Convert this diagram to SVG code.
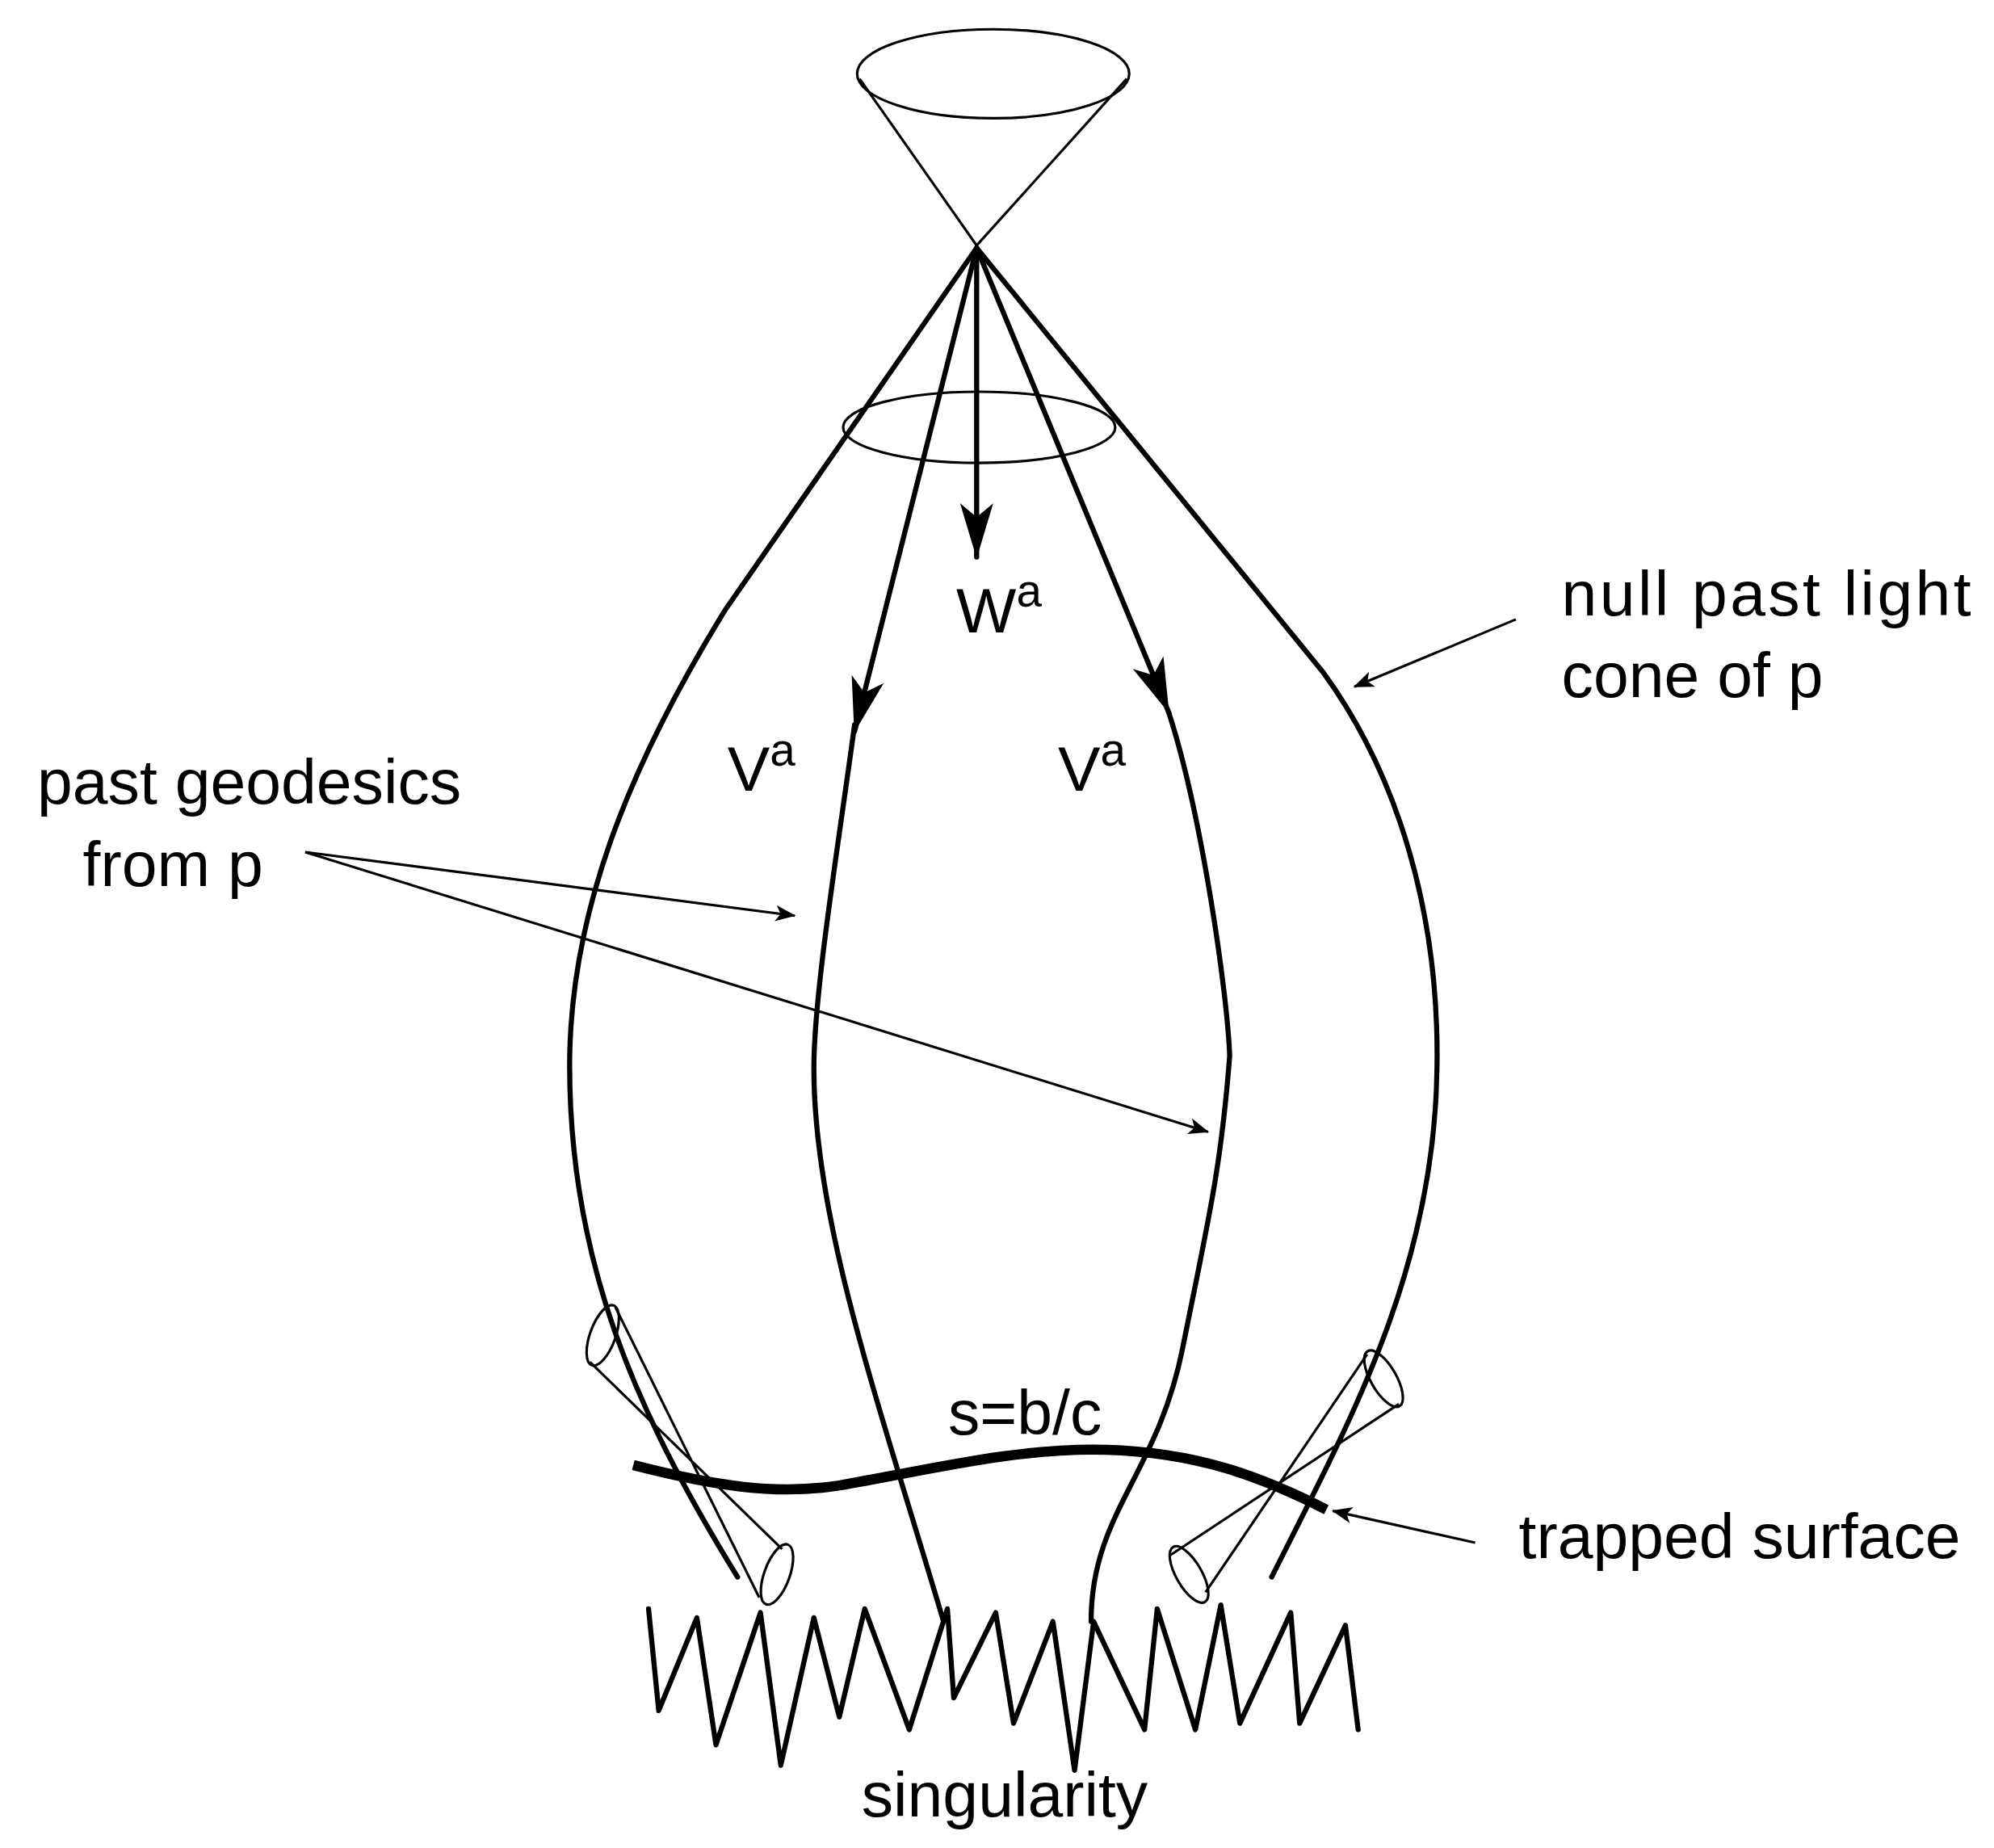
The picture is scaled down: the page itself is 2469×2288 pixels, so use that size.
<svg xmlns="http://www.w3.org/2000/svg" width="2469" height="2288" viewBox="0 0 2469 2288">
<style>
.t{font-family:"Liberation Sans",Arial,sans-serif;font-size:50px;fill:#000}
.th{fill:none;stroke:#000;stroke-width:4;stroke-linecap:round;stroke-linejoin:round}
.tn{fill:none;stroke:#000;stroke-width:2}
</style>
<defs>
<marker id="big" viewBox="0 0 40 24" refX="39" refY="12" markerWidth="44" markerHeight="26" orient="auto" markerUnits="userSpaceOnUse"><path d="M0,0 L40,12 L0,24 L10,12 z"/></marker>
<marker id="sm" viewBox="0 0 20 20" refX="19" refY="10" markerWidth="16" markerHeight="16" orient="auto" markerUnits="userSpaceOnUse"><path d="M0,2 L20,10 L0,18 L5,10 z"/></marker>
</defs>
<rect width="2469" height="2288" fill="#fff"/>
<g transform="scale(1.5746)">
<g id="cone-top">
<ellipse cx="781" cy="58" rx="107" ry="35" class="tn" stroke-width="2.5"/>
<path d="M676,62 L768,193 L886,62" class="tn"/>
</g>
<g id="ellipse-mid"><ellipse cx="770" cy="336" rx="107" ry="28" class="tn" stroke-width="2.5"/></g>
<g id="connectors">
<path class="th" d="M768,195 L570,480 C490,610 450,720 448,830 C446,990 500,1110 580,1240"/>
<path class="th" d="M768,195 L1040,528 C1100,610 1132,720 1130,840 C1128,1000 1060,1120 1000,1240"/>
<path class="th" stroke-width="5" d="M768,195 L672,575" marker-end="url(#big)"/>
<path class="th" stroke-width="3.5" d="M672,570 C660,660 640,780 640,840 C640,960 690,1100 742,1275"/>
<path class="th" stroke-width="5" d="M768,195 L919,560" marker-end="url(#big)"/>
<path class="th" stroke-width="3.5" d="M919,560 C945,640 965,780 967,830 C960,920 950,960 930,1060 C910,1160 858,1190 858,1275"/>
<path class="th" stroke-width="4.5" d="M768,195 L768,438" marker-end="url(#big)"/>
<path class="tn" stroke-width="2.5" d="M240,670 L625,720" marker-end="url(#sm)"/>
<path class="tn" stroke-width="2.5" d="M240,670 L950,890" marker-end="url(#sm)"/>
<path class="tn" stroke-width="2.5" d="M1192,487 L1065,540" marker-end="url(#sm)"/>
<path class="tn" stroke-width="2.5" d="M1160,1213 L1048,1188" marker-end="url(#sm)"/>
</g>
<g id="trapped-surface"><path d="M498,1152 C560,1168 610,1176 660,1168 C730,1156 800,1138 870,1140 C940,1142 990,1160 1043,1187" fill="none" stroke="#000" stroke-width="8"/></g>
<g id="small-cones">
<ellipse cx="474" cy="1050" rx="10" ry="25" transform="rotate(20 474 1050)" class="tn"/>
<path d="M464,1071 L615,1218 M484,1028 L597,1256" class="tn"/>
<ellipse cx="611" cy="1238" rx="10" ry="25" transform="rotate(20 611 1238)" class="tn"/>
<ellipse cx="1088" cy="1084" rx="10" ry="25" transform="rotate(-30 1088 1084)" class="tn"/>
<path d="M1075,1065 L948,1252 M1100,1104 L920,1223" class="tn"/>
<ellipse cx="935" cy="1238" rx="10" ry="25" transform="rotate(-30 935 1238)" class="tn"/>
</g>
<g id="singularity-line"><path class="th" d="M510,1265 L518,1345 L548,1272 L563,1372 L598,1268 L614,1388 L640,1272 L660,1350 L680,1265 L715,1360 L745,1265 L750,1335 L783,1268 L797,1355 L828,1275 L845,1392 L860,1275 L900,1360 L910,1265 L940,1360 L960,1262 L975,1355 L1015,1268 L1022,1355 L1058,1278 L1068,1360"/></g>
<g id="labels">
<text class="t" x="752" y="497">W<tspan dy="-20" font-size="36">a</tspan></text>
<text class="t" x="572" y="622">V<tspan dy="-20" font-size="36">a</tspan></text>
<text class="t" x="832" y="622">V<tspan dy="-20" font-size="36">a</tspan></text>
<text class="t" x="1228" y="484" textLength="322">null past light</text>
<text class="t" x="1228" y="548">cone of p</text>
<text class="t" x="196" y="632" text-anchor="middle">past geodesics</text>
<text class="t" x="136" y="697" text-anchor="middle">from p</text>
<text class="t" x="806" y="1128" text-anchor="middle">s=b/c</text>
<text class="t" x="1368" y="1225" text-anchor="middle">trapped surface</text>
<text class="t" x="790" y="1428" text-anchor="middle">singularity</text>
</g>
</g>
</svg>
